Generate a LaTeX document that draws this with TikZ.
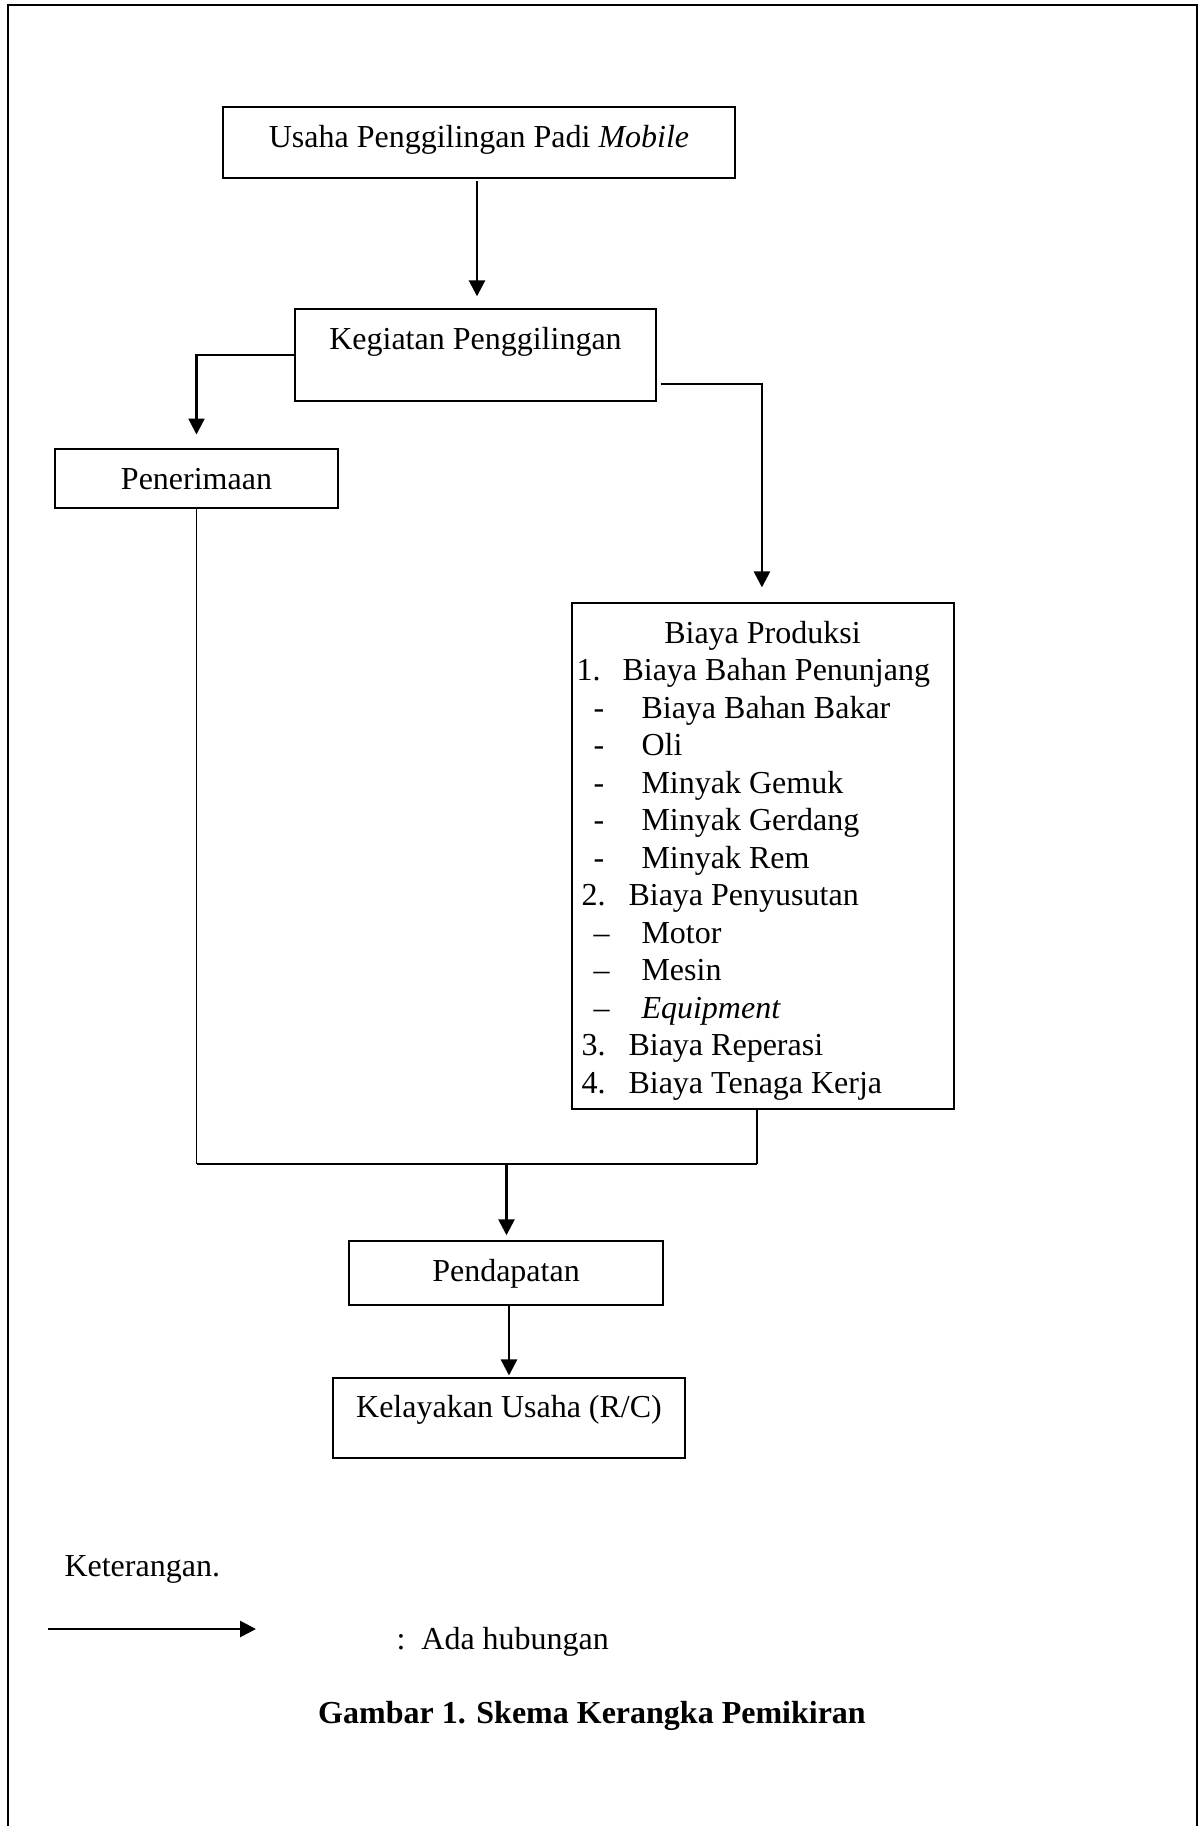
\documentclass[tikz,border=0pt]{standalone}
\usepackage{fontspec}
\setmainfont{Liberation Serif}
\usetikzlibrary{arrows.meta}

\begin{document}
\begin{tikzpicture}[
  x=0.375pt,y=-0.375pt,
  font=\fontsize{12pt}{14pt}\selectfont,
  >={Triangle[length=6pt,width=6pt]},
  box/.style={draw,line width=0.5pt,rectangle,inner sep=0pt,text height=8.5pt},
  item/.style={inner sep=0pt,anchor=base west},
  flow/.style={->,line width=1pt},
  joinLine/.style={-,line width=0.5pt},
  frameLine/.style={line width=0.75pt}]

  \useasboundingbox (0,0) rectangle (1200,1826);
  \draw [frameLine] (7.5,1840) -- (7.5,5) -- (1197,5) -- (1197,1840);

  % boxes
  \node[box,minimum width=192pt,minimum height=26.6pt,text depth=5.1pt] (usaha) at (479,142.5) {Usaha Penggilingan Padi \textit{Mobile}};
  \node[box,minimum width=135.4pt,minimum height=34.5pt,text depth=12.25pt] (kegiatan) at (475.5,355) {Kegiatan Penggilingan};
  \node[box,minimum width=106.1pt,minimum height=22.1pt,text depth=0.6pt] (terima) at (196.5,478.5) {Penerimaan};
  \node[box,minimum width=143.3pt,minimum height=189.75pt] (produksi) at (763,856) {};
  \node[box,minimum width=117.75pt,minimum height=24pt,text depth=2.5pt] (dapat) at (506,1273) {Pendapatan};
  \node[box,minimum width=132pt,minimum height=30pt,text depth=9.25pt] (layak) at (509,1418) {Kelayakan Usaha (R/C)};

  % isi biaya produksi
  \node[item,anchor=base] (prodTitle) at (762.5,643) {Biaya Produksi};
  \foreach \nx/\lbl/\tx/\txt [count=\i] in {
    576/1./622/Biaya Bahan Penunjang,
    593/-/641/Biaya Bahan Bakar,
    593/-/641/Oli,
    593/-/641/Minyak Gemuk,
    593/-/641/Minyak Gerdang,
    593/-/641/Minyak Rem,
    581/2./628/Biaya Penyusutan,
    593/--/641/Motor,
    593/--/641/Mesin,
    593/--/641/{\textit{Equipment}},
    581/3./628/Biaya Reperasi,
    581/4./628/Biaya Tenaga Kerja}
  {
    \node[item] (num\i) at ({\nx},{643+37.5*\i}) {\lbl};
    \node[item] (txt\i) at ({\tx},{643+37.5*\i}) {\txt};
  }

  % arrows between boxes
  \draw [flow,shorten <=1pt,shorten >=4.5pt] ([xshift=-0.75pt]usaha.south) -- ([xshift=-0.75pt]usaha.south |- kegiatan.north);
  \draw [flow,shorten >=5.2pt] (kegiatan.west) -| (terima.north);
  \draw [flow,shorten <=1.5pt,shorten >=5.6pt] ([yshift=-10.9pt]kegiatan.east) -| ([xshift=-0.4pt]produksi.north);

  % penerimaan + biaya -> pendapatan
  \coordinate (merge) at (506.5,1164);
  \coordinate (stub) at (757,1109);
  \draw [joinLine] (terima.south) -- (terima.south |- merge);
  \draw [joinLine] (stub) -- (stub |- merge);
  \draw [line width=0.75pt] (terima.south |- merge) -- (stub |- merge);
  \draw [flow,shorten >=1.9pt] (merge) -- (merge |- dapat.north);
  \draw [flow,shorten >=0.7pt] (dapat.south -| layak.north) -- (layak.north);

  % keterangan
  \node[item] (ket) at (64,1576) {Keterangan.};
  \coordinate (legA) at (48,1629);
  \coordinate (legB) at (256,1629);
  \draw [flow] (legA) -- (legB);
  \node[item] (legText) at (396,1649) {:\ \ Ada hubungan};
  \node[item,anchor=base] (caption) at (592,1723) {\textbf{Gambar 1. Skema Kerangka Pemikiran}};

\end{tikzpicture}
\end{document}
